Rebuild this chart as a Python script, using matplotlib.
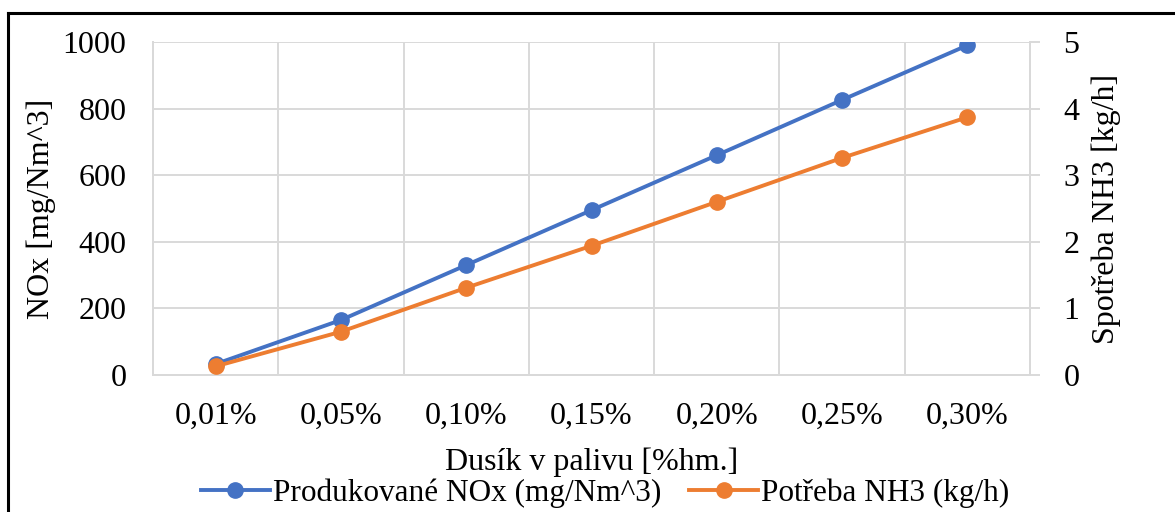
import matplotlib
matplotlib.use("Agg")
import matplotlib.pyplot as plt
from matplotlib.lines import Line2D
import numpy as np

categories = ["0,01%", "0,05%", "0,10%", "0,15%", "0,20%", "0,25%", "0,30%"]
nox_mg = [33, 165, 330, 495, 660, 826, 990]
nh3_kg = [0.13, 0.65, 1.31, 1.94, 2.60, 3.26, 3.87]
left_ticks = [0, 200, 400, 600, 800, 1000]
right_ticks = [0, 1, 2, 3, 4, 5]

blue = "#4472C4"
orange = "#ED7D31"
grid = "#D9D9D9"

plt.rcParams["font.family"] = ["Liberation Serif", "DejaVu Serif"]
plt.rcParams["font.size"] = 23

fig = plt.figure(figsize=(11.75, 5.12), dpi=100)
ax = fig.add_axes([153 / 1175, 1 - 375 / 512, (1030 - 153) / 1175, (375 - 42) / 512])
ax2 = ax.twinx()

x = np.arange(len(categories))
ax.plot(x, nox_mg, color=blue, lw=2.8, marker="o", ms=11, zorder=3)
ax2.plot(x, nh3_kg, color=orange, lw=2.8, marker="o", ms=11, zorder=3)

ax.set_xlim(-0.5, len(categories) - 0.5)
ax.set_ylim(0, 1000)
ax2.set_ylim(0, 5)
ax.set_yticks(left_ticks)
ax2.set_yticks(right_ticks)
ax.set_xticks(x)
ax.set_xticklabels(categories)
ax.set_xticks(np.arange(-0.5, len(categories)), minor=True)

ax.grid(True, which="major", axis="y", color=grid, lw=1.4)
ax.grid(True, which="minor", axis="x", color=grid, lw=1.4)
ax.set_axisbelow(True)

for a in (ax, ax2):
    for s in a.spines.values():
        s.set_color(grid)
        s.set_linewidth(1.4)
    a.spines["top"].set_visible(False)

ax.tick_params(axis="y", length=0, pad=19)
ax.tick_params(axis="x", which="both", length=0, pad=19)
ax2.tick_params(axis="y", length=7, width=1.4, color=grid, pad=17, direction="out")

ax.set_ylabel("NOx [mg/Nm^3]", labelpad=5)
ax2.set_ylabel("Spotřeba NH3 [kg/h]", labelpad=9)
ax.set_xlabel("Dusík v palivu [%hm.]", labelpad=12)

handles = [
    Line2D([], [], color=blue, lw=2.8, marker="o", ms=11),
    Line2D([], [], color=orange, lw=2.8, marker="o", ms=11),
]
fig.legend(handles, ["Produkované NOx (mg/Nm^3)", "Potřeba NH3 (kg/h)"],
           loc="center", bbox_to_anchor=(605 / 1175, 1 - 493 / 512), ncol=2,
           frameon=False, handlelength=2.2, handletextpad=0.1, columnspacing=0.9,
           borderaxespad=0, fontsize=22.5)

# outer frame: top and left edges
fig.add_artist(Line2D([8 / 1175, 1.0], [1 - 13 / 512, 1 - 13 / 512],
                      transform=fig.transFigure, color="black", lw=2.2))
fig.add_artist(Line2D([8 / 1175, 8 / 1175], [0, 1 - 13 / 512],
                      transform=fig.transFigure, color="black", lw=2.2))

fig.savefig("out.png", dpi=100, facecolor="white")
